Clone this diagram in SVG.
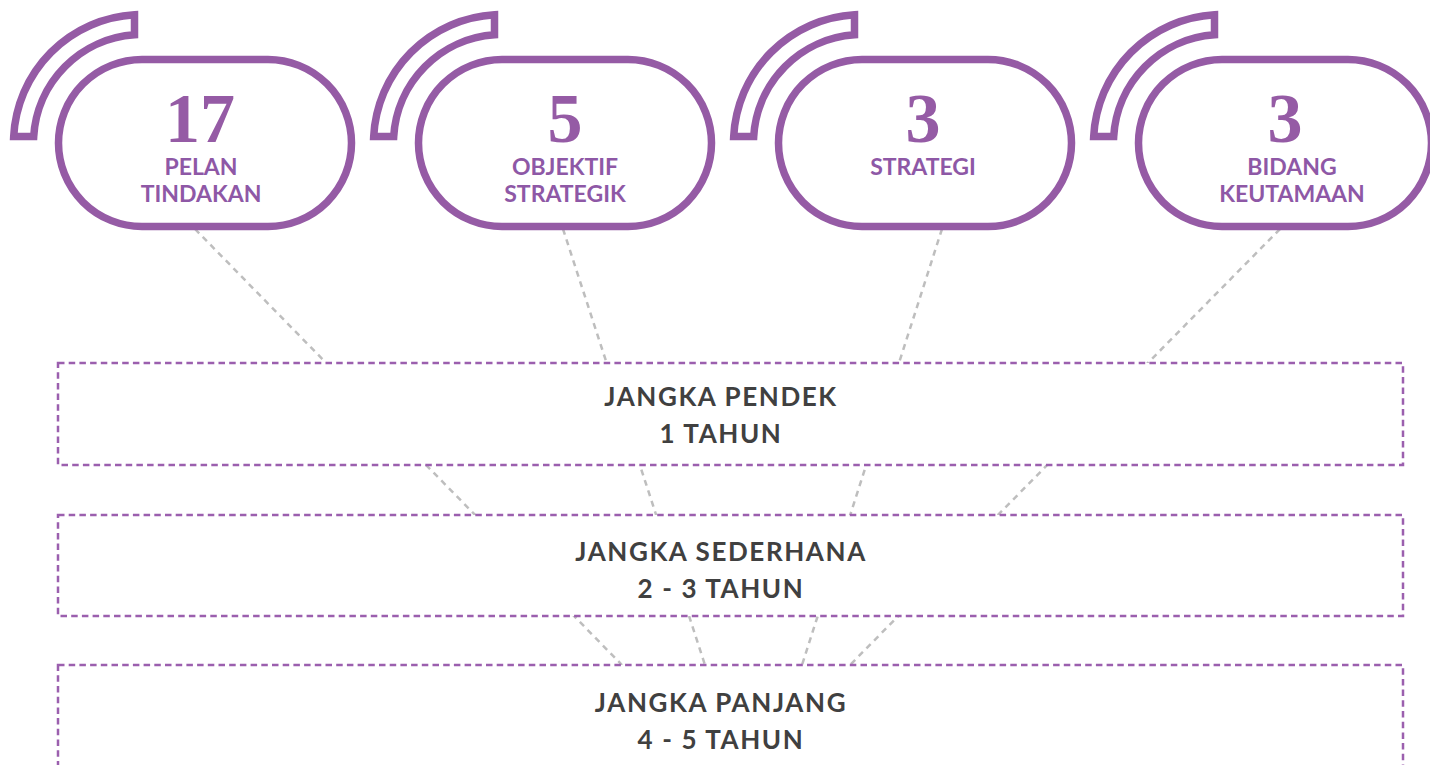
<svg xmlns="http://www.w3.org/2000/svg" width="1430" height="765" viewBox="0 0 1430 765">
<style>
.pill{fill:#fff;stroke:#955BA5;stroke-width:7.5}
.band{fill:#fff;stroke:#955BA5;stroke-width:7.5;stroke-linejoin:miter}
.num{font-family:"Liberation Serif",serif;font-weight:bold;font-size:70px;fill:#955BA5;text-anchor:middle}
.lbl{font-family:Lato,"Liberation Sans",sans-serif;font-weight:bold;font-size:23px;fill:#8E58A6;text-anchor:middle}
.box{fill:#fff;stroke:#9B5FAE;stroke-width:2.5;stroke-dasharray:6.5 4.2}
.btxt{font-family:Lato,"Liberation Sans",sans-serif;font-weight:bold;font-size:26px;letter-spacing:1.6px;fill:#404040;text-anchor:middle}
.conn{stroke:#BEBEBE;stroke-width:2.5;stroke-dasharray:6 5;fill:none}
</style>
<defs>
<g id="shape">
<path class="band" d="M134.5 14.7 A128.5 128.5 0 0 0 13.7 136.5 L33.7 136.5 A108.5 108.5 0 0 1 134.5 34.8 Z"/>
<rect class="pill" x="58.5" y="59.5" width="293" height="167" rx="83.5" ry="83.5"/>
</g>
</defs>
<g id="connectors">
<line class="conn" x1="195" y1="229" x2="622" y2="665"/>
<line class="conn" x1="563" y1="229" x2="705" y2="665"/>
<line class="conn" x1="942" y1="229" x2="802" y2="665"/>
<line class="conn" x1="1280" y1="229" x2="850" y2="665"/>
</g>
<g id="node-pelan">
<use href="#shape"/>
<text class="num" x="200" y="142">17</text>
<text class="lbl" x="201" y="175">PELAN</text>
<text class="lbl" x="201" y="202">TINDAKAN</text>
</g>
<g id="node-objektif">
<use href="#shape" x="360"/>
<text class="num" x="565" y="142">5</text>
<text class="lbl" x="565" y="175">OBJEKTIF</text>
<text class="lbl" x="565" y="202">STRATEGIK</text>
</g>
<g id="node-strategi">
<use href="#shape" x="720"/>
<text class="num" x="923" y="142">3</text>
<text class="lbl" x="923" y="175">STRATEGI</text>
</g>
<g id="node-bidang">
<use href="#shape" x="1080"/>
<text class="num" x="1285" y="142">3</text>
<text class="lbl" x="1292" y="175">BIDANG</text>
<text class="lbl" x="1292" y="202">KEUTAMAAN</text>
</g>
<g id="box-pendek">
<rect class="box" x="58" y="363" width="1345" height="102"/>
<text class="btxt" x="721" y="406">JANGKA PENDEK</text>
<text class="btxt" x="721" y="443">1 TAHUN</text>
</g>
<g id="box-sederhana">
<rect class="box" x="58" y="515" width="1345" height="101"/>
<text class="btxt" x="721" y="561">JANGKA SEDERHANA</text>
<text class="btxt" x="721" y="598">2 - 3 TAHUN</text>
</g>
<g id="box-panjang">
<rect class="box" x="58" y="665" width="1345" height="140"/>
<text class="btxt" x="721" y="712">JANGKA PANJANG</text>
<text class="btxt" x="721" y="749">4 - 5 TAHUN</text>
</g>
</svg>
